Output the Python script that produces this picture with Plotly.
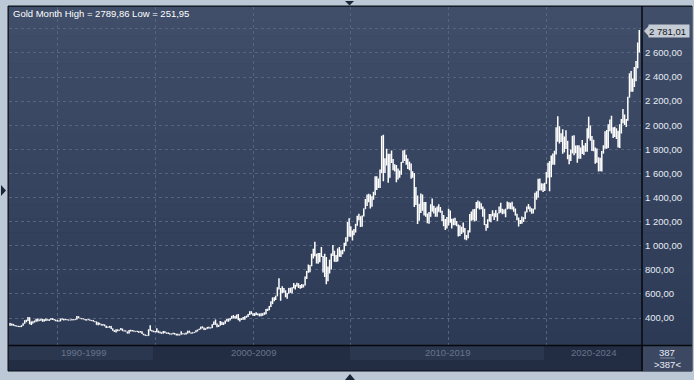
import plotly.graph_objects as go
import pandas as pd

# ---------------- DATA (monthly gold, Aug 1992 - Oct 2024) ----------------
first_open = 357.0

closes = [
    # 1992 Aug-Dec
    340, 349, 339, 334, 333,
    # 1993
    330, 328, 338, 355, 378, 378, 401, 371, 355, 370, 371, 391,
    # 1994
    378, 381, 391, 376, 387, 386, 384, 386, 394, 389, 383, 383,
    # 1995
    375, 376, 392, 389, 385, 387, 383, 384, 384, 383, 387, 387,
    # 1996
    405, 400, 396, 392, 391, 382, 385, 387, 379, 379, 371, 369,
    # 1997
    345, 358, 348, 340, 345, 334, 326, 325, 332, 311, 296, 290,
    # 1998
    303, 297, 301, 310, 293, 296, 288, 273, 294, 292, 294, 288,
    # 1999
    287, 288, 280, 286, 268, 262, 255, 254, 299, 299, 291, 290,
    # 2000
    283, 294, 278, 275, 272, 288, 276, 278, 273, 264, 269, 274,
    # 2001
    266, 267, 258, 264, 267, 271, 265, 273, 293, 279, 275, 279,
    # 2002
    282, 296, 302, 308, 326, 318, 304, 312, 323, 317, 319, 347,
    # 2003
    368, 348, 335, 339, 364, 346, 354, 375, 385, 386, 398, 416,
    # 2004
    400, 397, 427, 388, 394, 395, 391, 408, 416, 429, 453, 438,
    # 2005
    422, 435, 428, 435, 417, 437, 429, 433, 473, 470, 495, 517,
    # 2006
    569, 557, 583, 654, 643, 614, 633, 623, 599, 604, 646, 632,
    # 2007
    651, 669, 663, 679, 655, 650, 666, 673, 743, 789, 783, 834,
    # 2008
    923, 971, 917, 865, 886, 930, 913, 833, 884, 718, 815, 882,
    # 2009
    928, 943, 917, 883, 975, 927, 954, 955, 1001, 1040, 1182, 1097,
    # 2010
    1081, 1118, 1113, 1180, 1213, 1244, 1181, 1248, 1307, 1357, 1386, 1421,
    # 2011
    1332, 1409, 1439, 1556, 1536, 1500, 1628, 1826, 1620, 1717, 1746, 1564,
    # 2012
    1737, 1711, 1668, 1664, 1560, 1604, 1614, 1692, 1773, 1719, 1711, 1675,
    # 2013
    1663, 1578, 1596, 1472, 1392, 1234, 1312, 1396, 1327, 1323, 1250, 1202,
    # 2014
    1240, 1326, 1284, 1295, 1246, 1322, 1282, 1287, 1210, 1172, 1182, 1184,
    # 2015
    1283, 1213, 1183, 1184, 1190, 1172, 1095, 1133, 1115, 1142, 1065, 1061,
    # 2016
    1118, 1238, 1233, 1293, 1215, 1321, 1351, 1309, 1316, 1277, 1173, 1152,
    # 2017
    1211, 1249, 1249, 1268, 1268, 1242, 1269, 1322, 1280, 1271, 1275, 1303,
    # 2018
    1345, 1318, 1325, 1315, 1299, 1253, 1224, 1202, 1192, 1215, 1222, 1282,
    # 2019
    1321, 1313, 1292, 1284, 1305, 1409, 1413, 1520, 1472, 1513, 1464, 1517,
    # 2020
    1589, 1585, 1577, 1686, 1730, 1781, 1975, 1968, 1886, 1879, 1776, 1898,
    # 2021
    1847, 1734, 1708, 1769, 1906, 1770, 1814, 1813, 1743, 1783, 1774, 1829,
    # 2022
    1797, 1909, 1937, 1897, 1837, 1807, 1766, 1711, 1661, 1633, 1768, 1824,
    # 2023
    1928, 1827, 1969, 1990, 1962, 1919, 1965, 1940, 1849, 1983, 2036, 2063,
    # 2024 Jan-Oct
    2039, 2044, 2230, 2286, 2327, 2326, 2447, 2503, 2634, 2781.01,
]

highs = [
    358, 354, 350, 341, 337,
    334, 334, 339, 357, 381, 385, 409, 407, 372, 373, 380, 392,
    396, 387, 393, 392, 389, 396, 390, 389, 399, 397, 392, 386,
    384, 380, 396, 397, 392, 391, 390, 388, 386, 391, 390, 389,
    416, 415, 401, 398, 395, 392, 389, 389, 387, 383, 383, 373,
    370, 364, 359, 348, 350, 346, 335, 328, 334, 333, 312, 299,
    307, 305, 302, 317, 311, 297, 297, 289, 300, 303, 300, 297,
    291, 294, 291, 292, 290, 270, 263, 259, 306, 339, 300, 294,
    293, 316, 295, 288, 281, 292, 290, 280, 279, 274, 271, 278,
    275, 268, 269, 265, 290, 274, 272, 279, 294, 294, 280, 281,
    284, 299, 303, 310, 328, 332, 322, 315, 325, 327, 322, 349,
    370, 388, 355, 343, 376, 369, 365, 379, 392, 395, 400, 417,
    426, 416, 428, 433, 397, 397, 408, 414, 418, 434, 456, 457,
    439, 439, 447, 437, 437, 440, 439, 448, 474, 477, 499, 539,
    571, 573, 585, 655, 730, 650, 663, 649, 631, 607, 648, 652,
    656, 690, 675, 692, 689, 673, 683, 678, 745, 790, 845, 838,
    933, 975, 1033, 934, 939, 939, 989, 914, 934, 906, 827, 883,
    935, 1006, 959, 923, 976, 990, 963, 966, 1024, 1070, 1196, 1227,
    1162, 1126, 1138, 1181, 1249, 1265, 1245, 1250, 1308, 1388, 1424, 1431,
    1424, 1411, 1448, 1576, 1577, 1557, 1632, 1913, 1920, 1726, 1804, 1764,
    1763, 1791, 1720, 1677, 1669, 1641, 1625, 1694, 1790, 1796, 1755, 1724,
    1696, 1682, 1617, 1604, 1488, 1417, 1348, 1434, 1424, 1362, 1362, 1267,
    1280, 1345, 1392, 1331, 1315, 1326, 1345, 1321, 1290, 1255, 1221, 1238,
    1307, 1293, 1224, 1225, 1232, 1205, 1175, 1170, 1157, 1192, 1146, 1088,
    1128, 1263, 1283, 1303, 1304, 1362, 1375, 1366, 1352, 1325, 1307, 1180,
    1220, 1264, 1263, 1295, 1270, 1296, 1270, 1326, 1357, 1306, 1300, 1306,
    1366, 1361, 1356, 1365, 1326, 1309, 1266, 1235, 1214, 1243, 1237, 1284,
    1326, 1346, 1325, 1310, 1306, 1439, 1452, 1555, 1557, 1518, 1516, 1523,
    1611, 1689, 1704, 1748, 1765, 1789, 1984, 2075, 1992, 1933, 1966, 1906,
    1959, 1872, 1755, 1798, 1913, 1916, 1832, 1834, 1834, 1814, 1877, 1831,
    1853, 1974, 2070, 1998, 1910, 1879, 1814, 1807, 1735, 1729, 1786, 1833,
    1949, 1960, 2009, 2048, 2079, 1984, 1987, 1975, 1953, 2009, 2052, 2135,
    2088, 2052, 2236, 2432, 2450, 2388, 2483, 2532, 2686, 2789.86,
]

lows = [
    335, 338, 335, 331, 330,
    326, 326, 326, 336, 353, 365, 376, 348, 343, 355, 363, 369,
    370, 377, 378, 368, 370, 376, 379, 375, 385, 384, 381, 373,
    371, 372, 374, 386, 380, 383, 381, 380, 381, 382, 381, 384,
    387, 397, 395, 389, 390, 381, 380, 384, 377, 378, 370, 367,
    344, 339, 346, 337, 338, 331, 318, 320, 320, 309, 295, 283,
    279, 291, 294, 301, 292, 287, 287, 272, 272, 288, 290, 285,
    285, 284, 278, 279, 267, 257, 251.95, 252.5, 253, 295, 289, 281,
    282, 282, 277, 274, 269, 271, 275, 270, 268, 263, 263, 266,
    263, 255, 255, 254, 263, 265, 263, 264, 271, 277, 270, 271,
    277, 281, 287, 300, 307, 314, 300, 302, 311, 313, 313, 317,
    342, 345, 323, 325, 338, 342, 341, 353, 371, 368, 380, 393,
    399, 393, 396, 382, 372, 383, 386, 386, 403, 409, 425, 431,
    418, 417, 425, 423, 415, 414, 418, 427, 432, 458, 464, 491,
    516, 540, 549, 581, 637, 543, 606, 609, 573, 560, 602, 610,
    603, 647, 637, 661, 650, 642, 648, 653, 669, 723, 775, 780,
    830, 893, 913, 852, 850, 862, 907, 778, 741, 681, 705, 770,
    802, 915, 866, 865, 868, 909, 906, 930, 953, 1000, 1035, 1075,
    1075, 1044, 1087, 1110, 1166, 1212, 1155, 1157, 1243, 1305, 1330, 1361,
    1309, 1323, 1381, 1418, 1462, 1478, 1478, 1604, 1535, 1604, 1666, 1523,
    1563, 1687, 1627, 1615, 1527, 1549, 1565, 1589, 1686, 1702, 1672, 1636,
    1626, 1555, 1563, 1321, 1338, 1180, 1208, 1272, 1291, 1251, 1241, 1187,
    1182, 1240, 1283, 1268, 1240, 1241, 1281, 1273, 1206, 1161, 1131, 1142,
    1167, 1191, 1142, 1170, 1170, 1162, 1077, 1080, 1098, 1110, 1052, 1046,
    1061, 1110, 1208, 1211, 1200, 1208, 1310, 1301, 1303, 1241, 1171, 1124,
    1147, 1200, 1195, 1244, 1214, 1236, 1205, 1267, 1274, 1261, 1265, 1237,
    1302, 1307, 1303, 1301, 1282, 1250, 1211, 1160, 1180, 1182, 1196, 1221,
    1276, 1302, 1281, 1266, 1268, 1300, 1382, 1400, 1459, 1459, 1446, 1454,
    1515, 1563, 1451, 1568, 1671, 1671, 1757, 1863, 1849, 1860, 1764, 1775,
    1802, 1717, 1677, 1704, 1767, 1750, 1767, 1688, 1721, 1722, 1761, 1753,
    1780, 1780, 1890, 1872, 1786, 1784, 1681, 1688, 1615, 1617, 1616, 1765,
    1804, 1805, 1810, 1950, 1932, 1893, 1903, 1885, 1816, 1810, 1931, 2017,
    2002, 1985, 2036, 2229, 2278, 2277, 2318, 2365, 2472, 2603,
]

# each month opens at the previous month's close
opens = [first_open] + closes[:-1]
months = pd.date_range("1992-08-01", periods=len(closes), freq="MS")

y_ticks = [400, 600, 800, 1000, 1200, 1400, 1600, 1800, 2000, 2200, 2400, 2600, 2800]
y_tick_text = ["400,00", "600,00", "800,00", "1 000,00", "1 200,00", "1 400,00",
               "1 600,00", "1 800,00", "2 000,00", "2 200,00", "2 400,00", "2 600,00", ""]
decade_labels = ["1990-1999", "2000-2009", "2010-2019", "2020-2024"]
title_text = "Gold Month High = 2789,86 Low = 251,95"
last_price_text = "2 781,01"
bar_count_text = "387"
bar_count_sel_text = ">387<"

# ---------------- LAYOUT HELPERS ----------------
W, H = 694, 380
L, R, T, B = 9, 53, 7, 35
PW, PH = W - L - R, H - T - B


def px(x):
    return (x - L) / PW


def py(y):
    return (H - B - y) / PH


FONT = "Liberation Sans, Arial, sans-serif"
FS = 9.5

fig = go.Figure()
fig.add_trace(go.Ohlc(
    x=months, open=opens, high=highs, low=lows, close=closes,
    increasing=dict(line=dict(color="#ffffff", width=1.5)),
    decreasing=dict(line=dict(color="#ffffff", width=1.5)),
    tickwidth=0.15, showlegend=False, hoverinfo="skip",
))

shapes = []
# dark panel with border
shapes.append(dict(type="rect", xref="paper", yref="paper", x0=px(8), x1=px(692),
                   y0=py(371), y1=py(6), fillcolor="#222d43",
                   line=dict(color="#0b0f17", width=1), layer="below"))
# gradient background in plot + right-axis area
top_rgb = (0x40, 0x4e, 0x69)
bot_rgb = (0x2d, 0x3a, 0x55)
n = 24
for i in range(n):
    f = (i + 0.5) / n
    c = tuple(round(top_rgb[k] + (bot_rgb[k] - top_rgb[k]) * f) for k in range(3))
    y0 = 7 + (345 - 7) * i / n
    y1 = 7 + (345 - 7) * (i + 1) / n
    shapes.append(dict(type="rect", xref="paper", yref="paper", x0=px(9), x1=px(692),
                       y0=py(y1 + 0.5), y1=py(y0), fillcolor="rgb(%d,%d,%d)" % c,
                       line=dict(width=0), layer="below"))
# decade blocks in bottom band
for a, b in [(9, 153), (350, 544)]:
    shapes.append(dict(type="rect", xref="paper", yref="paper", x0=px(a), x1=px(b),
                       y0=py(360), y1=py(346), fillcolor="#2b374e",
                       line=dict(width=0), layer="below"))
# bottom-right count box
shapes.append(dict(type="rect", xref="paper", yref="paper", x0=px(643), x1=px(692),
                   y0=py(371), y1=py(346), fillcolor="#3c4861",
                   line=dict(width=0), layer="below"))
shapes.append(dict(type="line", xref="paper", yref="paper", x0=px(660), x1=px(675),
                   y0=py(358), y1=py(358), line=dict(color="#7f8aa0", width=1)))
# separator lines
shapes.append(dict(type="line", xref="paper", yref="paper", x0=px(8), x1=px(692),
                   y0=py(345.5), y1=py(345.5), line=dict(color="#06080c", width=1.5)))
shapes.append(dict(type="line", xref="paper", yref="paper", x0=px(642), x1=px(642),
                   y0=py(371), y1=py(6), line=dict(color="#06080c", width=1.5)))


# outer frame triangles
def tri(points):
    d = "M " + " L ".join("%f,%f" % (px(x), py(y)) for x, y in points) + " Z"
    return dict(type="path", xref="paper", yref="paper", path=d,
                fillcolor="#1b2538", line=dict(width=0))


shapes.append(tri([(345, 1), (354, 1), (349.5, 5.5)]))
shapes.append(tri([(345, 380), (355, 380), (350, 374)]))
shapes.append(tri([(1, 185), (1, 196), (6, 190.5)]))
# last price pointer
shapes.append(dict(type="path", xref="paper", yref="y",
                   path="M %f,%f L %f,%f L %f,%f Z" % (px(644), 2781.01, px(649), 2781.01 + 45,
                                                      px(649), 2781.01 - 45),
                   fillcolor="#c6ccd6", line=dict(width=0)))

annotations = [
    dict(text=title_text, xref="paper", yref="paper", x=px(11), y=py(14),
         xanchor="left", yanchor="middle", showarrow=False,
         font=dict(family=FONT, size=FS, color="#ffffff")),
    dict(text=last_price_text, xref="paper", yref="y", x=px(648), y=2781.01,
         xanchor="left", yanchor="middle", showarrow=False, bgcolor="#c6ccd6",
         width=40, height=12, align="left", borderpad=0,
         font=dict(family=FONT, size=FS, color="#101622")),
    dict(text=bar_count_text, xref="paper", yref="paper", x=px(667.5), y=py(352),
         xanchor="center", yanchor="middle", showarrow=False,
         font=dict(family=FONT, size=FS, color="#e8eef8")),
    dict(text=bar_count_sel_text, xref="paper", yref="paper", x=px(667.5), y=py(364.5),
         xanchor="center", yanchor="middle", showarrow=False,
         font=dict(family=FONT, size=FS, color="#e8eef8")),
]
for label, cx in zip(decade_labels, [83, 253, 447, 593]):
    annotations.append(dict(text=label, xref="paper", yref="paper", x=px(cx), y=py(353),
                            xanchor="center", yanchor="middle", showarrow=False,
                            font=dict(family=FONT, size=FS, color="#67748c")))

fig.update_layout(
    width=W, height=H,
    margin=dict(l=L, r=R, t=T, b=B, pad=0),
    paper_bgcolor="#bdc8d7",
    plot_bgcolor="rgba(0,0,0,0)",
    shapes=shapes,
    annotations=annotations,
    showlegend=False,
    font=dict(family=FONT, size=FS, color="#e6ecf5"),
    xaxis=dict(
        type="date", range=["1992-07-12", "2024-11-02"],
        rangeslider=dict(visible=False),
        showgrid=True, gridcolor="#56647e", griddash="3px,3px", gridwidth=1,
        dtick="M60", tick0="1995-01-01", showticklabels=False, ticks="",
        zeroline=False, showline=False, fixedrange=True,
    ),
    yaxis=dict(
        side="right", range=[176, 2981],
        tickmode="array", tickvals=y_ticks, ticktext=y_tick_text,
        showgrid=True, gridcolor="#56647e", griddash="3px,3px", gridwidth=1,
        ticks="", ticklabelstandoff=3, zeroline=False, showline=False,
        tickfont=dict(family=FONT, size=FS, color="#e6ecf5"), fixedrange=True,
    ),
)

fig.write_html("out.html", config={"displayModeBar": False},
               post_script="document.body.style.margin='0';document.body.style.overflow='hidden';")
